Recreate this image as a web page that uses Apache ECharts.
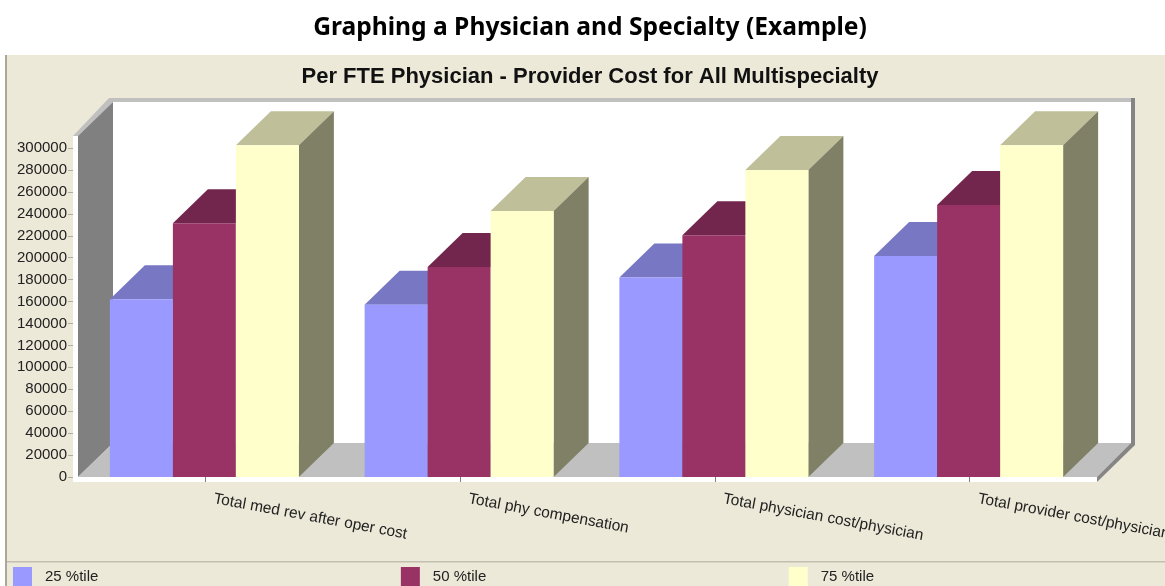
<!DOCTYPE html>
<html><head><meta charset="utf-8">
<style>html,body{margin:0;padding:0;background:#fff}#c{width:1165px;height:586px}</style>
<script src="https://cdn.jsdelivr.net/npm/echarts@6/dist/echarts.min.js"></script>
</head><body><div id="c"></div>
<script>
const categories = ['Total med rev after oper cost','Total phy compensation','Total physician cost/physician','Total provider cost/physician'];
const p25 = [162000,157000,182000,201500];
const p50 = [231500,191500,220500,248000];
const p75 = [302500,242500,280000,302500];
const yTicks = [0,20000,40000,60000,80000,100000,120000,140000,160000,180000,200000,220000,240000,260000,280000,300000];
const seriesNames = ['25 %tile','50 %tile','75 %tile'];

const DX = 35, DY = -34;         // pseudo-3D depth
const BAR_RATIO = 0.2473;
const STRIP = 5;
function bar3d(front, top, side, slot) {
  return function (params, api) {
    const base = api.coord([api.value(0), 0]);
    const head = api.coord([api.value(0), api.value(1)]);
    const w = api.size([1, 0])[0] * BAR_RATIO;
    const x0 = base[0] - 1 + (slot - 1.5) * w, x1 = x0 + w, yT = head[1], yB = base[1];
    return { type: 'group', children: [
      { type: 'polygon', shape: { points: [[x0,yT],[x0+DX,yT+DY],[x1+DX,yT+DY],[x1,yT]] }, style: { fill: top } },
      { type: 'polygon', shape: { points: [[x1,yT],[x1+DX,yT+DY],[x1+DX,yB+DY],[x1,yB]] }, style: { fill: side } },
      { type: 'rect', shape: { x: x0, y: yT, width: w, height: yB - yT }, style: { fill: front } }
    ]};
  };
}
function frame(params) {
  const c = params.coordSys, L = c.x, T = c.y, R = c.x + c.width, B = c.y + c.height;
  const bL = L + DX, bR = R + DX - 1, bT = T + DY, bB = B + DY, e = 4;
  const poly = (pts, fill) => ({ type: 'polygon', shape: { points: pts }, style: { fill } });
  const rect = (x, y, w, h, fill) => ({ type: 'rect', shape: { x, y, width: w, height: h }, style: { fill } });
  return { type: 'group', children: [
    rect(bL, bT, bR - bL, bB - bT, '#ffffff'),
    poly([[L-STRIP,T],[bL-e,bT-e],[bR+e,bT-e],[bR+e,bT],[bL,bT],[L,T]], '#c0c0c0'),
    rect(bR, bT - e, e, bB - bT + e + 2, '#858585'),
    poly([[L,T],[bL,bT],[bL,bB],[L,B]], '#808080'),
    poly([[L,B],[bL,bB],[bR,bB],[R,B]], '#c0c0c0'),
    poly([[R,B],[bR,bB],[bR+e,bB],[bR+e,bB+2],[R,B+STRIP]], '#858585'),
    rect(L - STRIP, T, STRIP, B - T + STRIP, '#ffffff'),
    rect(L - STRIP, B, R - L + STRIP, STRIP, '#ffffff')
  ]};
}
const toPts = arr => arr.map((v, i) => [i, v]);
const tf = 'Liberation Sans, Arial, sans-serif';
const chart = echarts.init(document.getElementById('c'), null, { renderer: 'canvas' });
chart.setOption({
  animation: false,
  backgroundColor: '#ffffff',
  graphic: { elements: [
    { type: 'rect', z: -10, silent: true, shape: { x: 5, y: 55, width: 1160, height: 531 }, style: { fill: '#ece9d8' } },
    { type: 'rect', z: -9, silent: true, shape: { x: 5, y: 55, width: 2, height: 531 }, style: { fill: '#aca899' } },
    { type: 'rect', z: -9, silent: true, shape: { x: 7, y: 561, width: 1158, height: 1.5 }, style: { fill: '#c2bfb0' } }
  ]},
  title: [
    { text: 'Graphing a Physician and Specialty (Example)', left: 585, top: 10, textAlign: 'center',
      textStyle: { fontFamily: 'Noto Sans', fontWeight: 'bold', fontSize: 24.6, color: '#000' } },
    { text: 'Per FTE Physician - Provider Cost for All Multispecialty', left: 585, top: 61, textAlign: 'center',
      textStyle: { fontFamily: tf, fontWeight: 'bold', fontSize: 22, color: '#111', textShadowColor: '#aaa', textShadowOffsetX: 1, textShadowOffsetY: 1, textShadowBlur: 0 } }
  ],
  legend: { left: 13, top: 567, itemWidth: 19, itemHeight: 19, itemGap: 302.5, icon: 'rect', data: seriesNames,
    selectedMode: false, padding: 0,
    textStyle: { fontFamily: tf, fontSize: 15, color: '#222', padding: [3, 0, 0, 8] } },
  grid: { left: 78, right: 68, top: 136, bottom: 109, containLabel: false, outerBoundsMode: 'none' },
  xAxis: { type: 'category', data: categories, z: 10,
    axisLine: { show: false },
    axisTick: { show: true, alignWithLabel: true, length: 5, lineStyle: { color: '#808080' } },
    axisLabel: { interval: 0, rotate: -10.5, margin: 12, align: 'left', verticalAlign: 'top', padding: [0,0,0,10],
      hideOverlap: false, fontFamily: tf, fontSize: 15.5, color: '#222' } },
  yAxis: { type: 'value', min: 0, max: 311000, interval: 20000, offset: 5, z: 10,
    splitLine: { show: false }, axisLine: { show: false },
    axisTick: { show: true, length: 5, lineStyle: { color: '#b0ad9f' }, customValues: yTicks },
    axisLabel: { margin: 6, padding: [4,0,0,0], fontFamily: tf, fontSize: 15, color: '#222', customValues: yTicks, formatter: v => String(v) } },
  series: [
    { type: 'custom', name: 'frame', silent: true, z: 1, data: [[0, 0]], renderItem: frame, encode: { x: 0, y: 1 } },
    { type: 'custom', name: seriesNames[0], z: 2, itemStyle: { color: '#9999ff' }, encode: { x: 0, y: 1 }, data: toPts(p25), renderItem: bar3d('#9999ff', '#7777c4', '#55558a', 0) },
    { type: 'custom', name: seriesNames[1], z: 3, itemStyle: { color: '#993366' }, encode: { x: 0, y: 1 }, data: toPts(p50), renderItem: bar3d('#993366', '#73264d', '#4d1a33', 1) },
    { type: 'custom', name: seriesNames[2], z: 4, itemStyle: { color: '#ffffcc' }, encode: { x: 0, y: 1 }, data: toPts(p75), renderItem: bar3d('#ffffcc', '#bfbf99', '#808066', 2) }
  ]
});
</script></body></html>
